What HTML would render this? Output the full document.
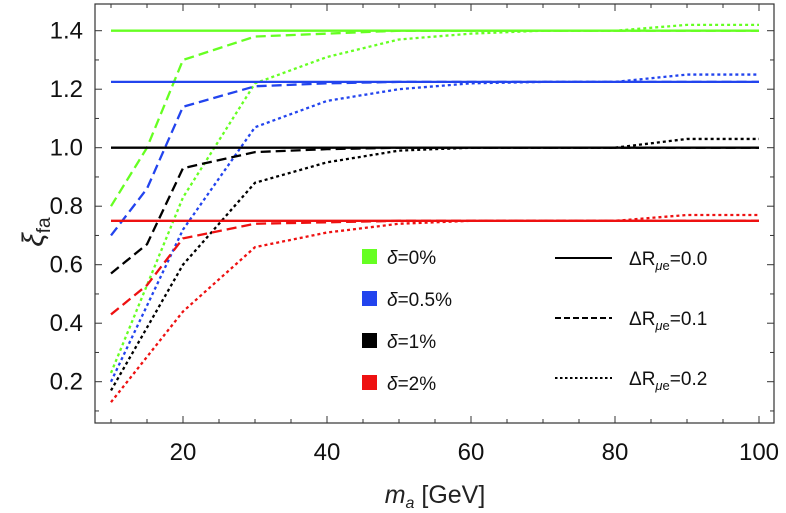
<!DOCTYPE html>
<html><head><meta charset="utf-8"><style>
body{margin:0;background:#fff}
svg{display:block;font-family:"Liberation Sans",sans-serif}
</style></head><body>
<svg id="chart" width="786" height="513"></svg>
<script>
const xs=[10,15,20,30,40,50,60,70,80,90,100];
const colors=['#66ff22','#2244ee','#000000','#ee1111'];
const deltaLabels=['0%','0.5%','1%','2%'];
const solidVals=[1.40,1.225,1.0,0.75];
const dashedGreen=[0.80,1.00,1.30,1.38,1.39,1.40,1.40,1.40,1.40,1.40,1.40];
const dashedBlue=[0.70,0.86,1.14,1.21,1.22,1.225,1.225,1.225,1.225,1.225,1.225];
const dashedBlack=[0.57,0.67,0.93,0.985,0.995,1.0,1.0,1.0,1.0,1.0,1.0];
const dashedRed=[0.43,0.53,0.69,0.74,0.745,0.75,0.75,0.75,0.75,0.75,0.75];
const dottedGreen=[0.23,0.53,0.83,1.22,1.31,1.37,1.39,1.40,1.40,1.42,1.42];
const dottedBlue=[0.20,0.46,0.72,1.07,1.16,1.20,1.22,1.225,1.225,1.25,1.25];
const dottedBlack=[0.17,0.385,0.60,0.88,0.95,0.99,1.0,1.0,1.0,1.03,1.03];
const dottedRed=[0.13,0.285,0.44,0.66,0.71,0.74,0.75,0.75,0.75,0.77,0.77];
const xTicks=[20,40,60,80,100];
const yTicks=[0.2,0.4,0.6,0.8,1.0,1.2,1.4];
const NS='http://www.w3.org/2000/svg';
const svg=document.getElementById('chart');
const L=95,R=774,T=4,B=423;
const X=v=>183+(v-20)*7.2;
const Y=v=>147.7-(v-1)*292.5;
function mk(tag,attrs,parent){const e=document.createElementNS(NS,tag);for(const k in attrs)e.setAttribute(k,attrs[k]);(parent||svg).appendChild(e);return e;}
const frame=mk('rect',{x:L,y:T,width:R-L,height:B-T,fill:'none',stroke:'#333','stroke-width':1.2});


for(let v=10;v<=100;v+=5){const maj=v%20===0;const len=maj?7:4;
 mk('line',{x1:X(v),x2:X(v),y1:B,y2:B-len,stroke:'#333'});mk('line',{x1:X(v),x2:X(v),y1:T,y2:T+len,stroke:'#333'});}
xTicks.forEach(v=>{const t=mk('text',{x:X(v),y:B+37,'text-anchor':'middle','font-size':24,fill:'#111'});t.textContent=v;
 
 });
for(let i=1;i<=14;i++){const v=i*0.1;const maj=i%2===0;const len=maj?7:4;
 mk('line',{x1:L,x2:L+len,y1:Y(v),y2:Y(v),stroke:'#333'});mk('line',{x1:R,x2:R-len,y1:Y(v),y2:Y(v),stroke:'#333'});}
yTicks.forEach(v=>{const t=mk('text',{x:L-12,y:Y(v)+8,'text-anchor':'end','font-size':24,fill:'#111'});t.textContent=v.toFixed(1);
 
 });
const dashedAll=[dashedGreen,dashedBlue,dashedBlack,dashedRed];
const dottedAll=[dottedGreen,dottedBlue,dottedBlack,dottedRed];
function line(vals,color,dash,name){const p=mk('polyline',{points:xs.map((x,i)=>X(x)+','+Y(vals[i])).join(' '),fill:'none',stroke:color,'stroke-width':2.3,'stroke-dasharray':dash});
 
 }
for(let i=0;i<4;i++){
 line(dottedAll[i],colors[i],'3,3','dotted-line-'+i);
 line(dashedAll[i],colors[i],'10,5','dashed-line-'+i);
 const s=mk('line',{x1:X(10),x2:X(100),y1:Y(solidVals[i]),y2:Y(solidVals[i]),stroke:colors[i],'stroke-width':2.3});
 
 
}
for(let i=0;i<4;i++){const cy=256+i*42;
 const r=mk('rect',{x:362,y:cy-7,width:15,height:15,fill:colors[i]});
 
 
 const t=mk('text',{x:387,y:cy+8,'font-size':19,fill:'#111'});
 t.innerHTML='<tspan font-style="italic">δ</tspan>='+deltaLabels[i];
 
 }
const styles=[['',"0.0"],['6,3',"0.1"],['2.5,2.5',"0.2"]];
styles.forEach((s,i)=>{const cy=258+i*60;
 const l=mk('line',{x1:555,x2:612,y1:cy,y2:cy,stroke:'#000','stroke-width':2,'stroke-dasharray':s[0]||'none'});
 
 
 const t=mk('text',{x:629,y:cy+7,'font-size':19,fill:'#111'});
 t.innerHTML='ΔR<tspan font-size="13" dy="5"><tspan font-style="italic">μ</tspan>e</tspan><tspan dy="-5">='+s[1]+'</tspan>';
 
 });
const xl=mk('text',{x:435,y:503,'text-anchor':'middle','font-size':25,fill:'#222'});
xl.innerHTML='<tspan font-style="italic">m</tspan><tspan font-style="italic" font-size="16" dy="5">a</tspan><tspan dy="-5"> [GeV]</tspan>';


const yl=mk('text',{x:0,y:0,'font-size':30,fill:'#222',transform:'translate(43,232) rotate(-90)','text-anchor':'middle'});
yl.innerHTML='<tspan font-style="italic">ξ</tspan><tspan font-size="19" dy="7">fa</tspan>';


</script>
</body></html>
